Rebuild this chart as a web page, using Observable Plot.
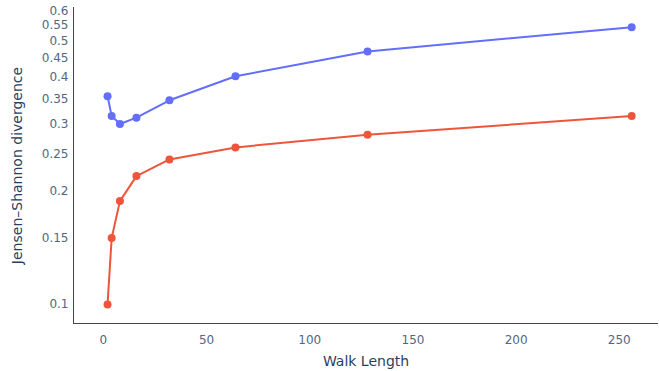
<!DOCTYPE html>
<html>
<head>
<meta charset="utf-8">
<script src="https://cdn.jsdelivr.net/npm/d3@7"></script>
<script src="https://cdn.jsdelivr.net/npm/@observablehq/plot@0.6"></script>
<style>
  html, body { margin: 0; padding: 0; background: #fff; }
  svg { font-family: "DejaVu Sans", Verdana, sans-serif; }
</style>
</head>
<body>
<div id="chart"></div>
<script>
const walkLengths = [2, 4, 8, 16, 32, 64, 128, 256];
const seriesA = [0.357, 0.316, 0.301, 0.313, 0.348, 0.403, 0.469, 0.544]; // blue
const seriesB = [0.1, 0.150, 0.188, 0.219, 0.2425, 0.261, 0.282, 0.316]; // red
const yTicks = [0.1, 0.15, 0.2, 0.25, 0.3, 0.35, 0.4, 0.45, 0.5, 0.55, 0.6];
const xTicks = [0, 50, 100, 150, 200, 250];

const data = [
  ...walkLengths.map((w, i) => ({w, v: seriesA[i], s: "A"})),
  ...walkLengths.map((w, i) => ({w, v: seriesB[i], s: "B"}))
];
const colors = {A: "#636efa", B: "#EF553B"};
const xDomain = [-14.5, 269];
const yDomain = [0.089, 0.6135];

const chart = Plot.plot({
  width: 659,
  height: 371,
  marginLeft: 73,
  marginRight: 1,
  marginTop: 7,
  marginBottom: 48,
  style: {fontFamily: "'DejaVu Sans', Verdana, sans-serif", fontSize: "12px", color: "#506784", background: "#fff"},
  x: {domain: xDomain, ticks: xTicks, tickSize: 0, tickPadding: 12, label: "Walk Length", labelAnchor: "center", labelArrow: "none", labelOffset: 42, tickFormat: d => String(d)},
  y: {type: "log", domain: yDomain, ticks: yTicks, tickSize: 0, tickPadding: 5, label: "Jensen–Shannon divergence", labelAnchor: "center", labelArrow: "none", labelOffset: 61, tickFormat: d => String(d)},
  color: {domain: ["A", "B"], range: [colors.A, colors.B]},
  marks: [
    Plot.ruleX([xDomain[0]], {stroke: "#444", strokeWidth: 1}),
    Plot.ruleY([yDomain[0]], {stroke: "#444", strokeWidth: 1}),
    Plot.line(data, {x: "w", y: "v", z: "s", stroke: "s", strokeWidth: 2}),
    Plot.dot(data, {x: "w", y: "v", fill: "s", r: 4, stroke: "none"})
  ]
});
chart.querySelectorAll("[aria-label$='axis label'] text").forEach(t => { t.setAttribute("font-size", "14px"); t.setAttribute("fill", "#2a3f5f"); });
document.getElementById("chart").appendChild(chart);
</script>
</body>
</html>
